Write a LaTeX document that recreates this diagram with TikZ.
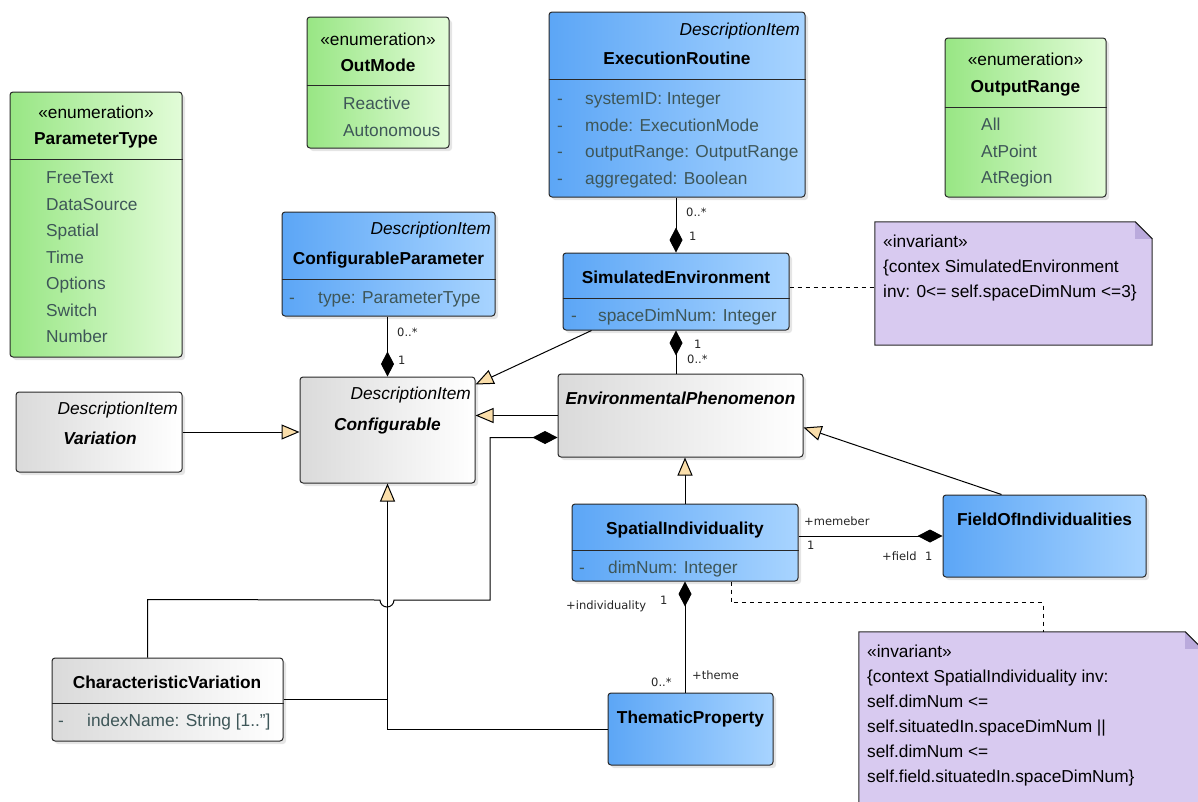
\documentclass[tikz,border=0pt]{standalone}
\usepackage{fontspec}
\setmainfont{Liberation Sans}
\newfontfamily\labelfont{DejaVu Sans}
\usetikzlibrary{arrows.meta, shadows, calc}

\newcommand\umlsize{\fontsize{17.3}{26.5}\selectfont}
\newcommand\notesize{\fontsize{17.3}{25}\selectfont}
\newcommand\lblsize{\labelfont\fontsize{11.5}{14}\selectfont}

\definecolor{blueL}{RGB}{92,166,246}
\definecolor{blueR}{RGB}{168,212,255}
\definecolor{greenL}{RGB}{152,230,132}
\definecolor{greenR}{RGB}{226,252,216}
\definecolor{grayL}{RGB}{218,218,218}
\definecolor{grayR}{RGB}{255,255,255}
\definecolor{notefill}{RGB}{216,202,240}
\definecolor{notefold}{RGB}{186,170,220}
\definecolor{attrtext}{RGB}{62,86,88}
\definecolor{genfill}{RGB}{250,222,170}
\definecolor{edge}{RGB}{40,40,40}

\begin{document}
\begin{tikzpicture}[x=1pt, y=-1pt, font=\umlsize]
\tikzstyle{umlbox} = [rectangle, rounded corners=3pt, draw=edge, line width=1pt, inner sep=0pt,
                      drop shadow={shadow xshift=3pt, shadow yshift=-3pt, opacity=0.2}]
\tikzstyle{bluebox} = [umlbox, left color=blueL, right color=blueR]
\tikzstyle{greenbox} = [umlbox, left color=greenL, right color=greenR]
\tikzstyle{graybox} = [umlbox, left color=grayL, right color=grayR]
\tikzstyle{notebox} = [rectangle, inner sep=0pt]
\tikzstyle{sep} = [draw=edge, line width=1pt]
\tikzstyle{txt} = [inner sep=0pt, text height=12.5pt, text depth=1.5pt, font=\umlsize]
\tikzstyle{classname} = [txt, font=\umlsize\bfseries]
\tikzstyle{absname} = [txt, font=\umlsize\bfseries\itshape]
\tikzstyle{stereo} = [txt, font=\umlsize\itshape, anchor=east]
\tikzstyle{attr} = [txt, text=attrtext, anchor=west]
\tikzstyle{notetext} = [inner sep=0pt, anchor=north west, align=left, font=\notesize]
\tikzstyle{lbl} = [inner sep=0pt, anchor=west, text height=9pt, text depth=2.5pt, font=\lblsize, text=black!85]
\tikzstyle{gen} = [-{Triangle[length=18pt, width=15pt, fill=genfill]}, line width=1pt]
\tikzstyle{comp} = [-{Diamond[length=25pt, width=13pt]}, line width=1pt]
\tikzstyle{trace} = [dash pattern=on 4pt off 4pt, line width=1pt]

\fill[white] (0,0) rectangle (1198,801);
\useasboundingbox (0,0) rectangle (1198,801);

\node[greenbox, minimum width=172pt, minimum height=265pt] (paramtype) at (96,224.5) {};
\node[greenbox, minimum width=142pt, minimum height=131pt] (outmode) at (378,82.5) {};
\node[bluebox, minimum width=256pt, minimum height=185pt] (exec) at (677,104.5) {};
\node[greenbox, minimum width=161pt, minimum height=159pt] (outrange) at (1025.5,117.5) {};
\node[bluebox, minimum width=213pt, minimum height=104pt] (confparam) at (388.5,264) {};
\node[bluebox, minimum width=226pt, minimum height=77pt] (simenv) at (676,291.5) {};
\node[graybox, minimum width=166pt, minimum height=80pt] (variation) at (99,432) {};
\node[graybox, minimum width=175pt, minimum height=106pt] (configurable) at (387.5,430) {};
\node[graybox, minimum width=245pt, minimum height=83pt] (envphen) at (680.5,415.5) {};
\node[bluebox, minimum width=226pt, minimum height=77pt] (spatind) at (685,542.5) {};
\node[bluebox, minimum width=203pt, minimum height=82pt] (fieldind) at (1044.5,536) {};
\node[graybox, minimum width=231pt, minimum height=83pt] (charvar) at (167.5,699.5) {};
\node[bluebox, minimum width=165pt, minimum height=72pt] (thematic) at (690.5,729) {};

\node[notebox, minimum width=277pt, minimum height=123pt] (siminv) at (1013.5,283.5) {};
\filldraw[fill=notefill, draw=edge, line width=1pt] (siminv.south west) -- (siminv.north west)
  -- ($(siminv.north east)+(-17,0)$) -- ($(siminv.north east)+(0,17)$) -- (siminv.south east) -- cycle;
\fill[notefold] ($(siminv.north east)+(-17,0)$) -- ($(siminv.north east)+(-17,17)$) -- ($(siminv.north east)+(0,17)$) -- cycle;
\draw[edge, line width=1pt] ($(siminv.north east)+(-17,0)$) -- ($(siminv.north east)+(0,17)$);

\node[notebox, minimum width=343pt, minimum height=183pt] (spatinv) at (1030.5,723.5) {};
\filldraw[fill=notefill, draw=edge, line width=1pt] (spatinv.south west) -- (spatinv.north west)
  -- ($(spatinv.north east)+(-17,0)$) -- ($(spatinv.north east)+(0,17)$) -- (spatinv.south east) -- cycle;
\fill[notefold] ($(spatinv.north east)+(-17,0)$) -- ($(spatinv.north east)+(-17,17)$) -- ($(spatinv.north east)+(0,17)$) -- cycle;
\draw[edge, line width=1pt] ($(spatinv.north east)+(-17,0)$) -- ($(spatinv.north east)+(0,17)$);

\draw[sep] (paramtype.west |- 0,159) -- (paramtype.east |- 0,159);
\draw[sep] (outmode.west |- 0,85) -- (outmode.east |- 0,85);
\draw[sep] (exec.west |- 0,79) -- (exec.east |- 0,79);
\draw[sep] (outrange.west |- 0,107) -- (outrange.east |- 0,107);
\draw[sep] (confparam.west |- 0,279) -- (confparam.east |- 0,279);
\draw[sep] (simenv.west |- 0,298) -- (simenv.east |- 0,298);
\draw[sep] (spatind.west |- 0,550) -- (spatind.east |- 0,550);
\draw[sep] (charvar.west |- 0,703) -- (charvar.east |- 0,703);

\draw[comp] (simenv.north |- exec.south) -- (simenv.north);
\draw[comp] (configurable.north |- confparam.south) -- (configurable.north);
\draw[comp] (envphen.north -| simenv.south) -- (simenv.south);
\draw[gen] ([xshift=29pt]simenv.south west) -- ([yshift=-8pt]configurable.north east);
\draw[gen] (envphen.west) -- (configurable.east |- envphen.west);
\draw[gen] (variation.east) -- (variation.east -| configurable.west);
\draw[gen] (spatind.north) -- (spatind.north |- envphen.south);
\draw[gen] ([xshift=59pt]fieldind.north west) -- ([yshift=-12pt]envphen.east);
\draw[gen] (thematic.west) -- (configurable.south |- thematic.west) -- (configurable.south);
\draw[line width=1pt] (charvar.east) -- (charvar.east -| configurable.south);
\draw[comp] (spatind.east |- fieldind.west) -- (fieldind.west);
\draw[comp] (spatind.south |- thematic.north) -- (spatind.south);
\draw[comp] ([xshift=-20pt]charvar.north) -- ++(0,-58) -- (380,600)
  arc[start angle=180, end angle=0, radius=7] -- (490,600) |- ([yshift=-22pt]envphen.west);
\draw[trace] ($(simenv.east)+(0,-4)$) -- ($(simenv.east -| siminv.west)+(0,-4)$);
\draw[trace] ([xshift=46pt]spatind.south) -- ++(0,21) -| ([xshift=12.5pt]spatinv.north);

\node[txt] (paramtype-st) at (96,113) {«enumeration»};
\node[classname] (paramtype-name) at (96,139) {ParameterType};
\foreach \v [count=\i from 0] in {FreeText, DataSource, Spatial, Time, Options, Switch, Number}
  \node[attr] (paramtype-\i) at (46,178+26.5*\i) {\v};

\node[txt] (outmode-st) at (378,40) {«enumeration»};
\node[classname] (outmode-name) at (378,66) {OutMode};
\foreach \v [count=\i from 0] in {Reactive, Autonomous}
  \node[attr] (outmode-\i) at (343,104+26.5*\i) {\v};

\node[stereo] (exec-st) at (800,30) {DescriptionItem};
\node[classname] (exec-name) at (677,59) {ExecutionRoutine};
\foreach \v [count=\i from 0] in {systemID: Integer, mode: ExecutionMode, outputRange: OutputRange, aggregated: Boolean} {
  \node[attr] (exec-d\i) at (557,99+26.5*\i) {-};
  \node[attr] (exec-\i) at (585,99+26.5*\i) {\v};
}

\node[txt] (outrange-st) at (1025.5,60) {«enumeration»};
\node[classname] (outrange-name) at (1025.5,87) {OutputRange};
\foreach \v [count=\i from 0] in {All, AtPoint, AtRegion}
  \node[attr] (outrange-\i) at (981,125+26.5*\i) {\v};

\node[stereo] (confparam-st) at (491,229) {DescriptionItem};
\node[classname] (confparam-name) at (388.5,259) {ConfigurableParameter};
\node[attr] (confparam-d) at (289,298) {-};
\node[attr] (confparam-a) at (318,298) {type: ParameterType};

\node[classname] (simenv-name) at (676,278) {SimulatedEnvironment};
\node[attr] (simenv-d) at (571,316) {-};
\node[attr] (simenv-a) at (598,316) {spaceDimNum: Integer};

\node[notetext] (siminv-text) at (883,235) {«invariant»\\\{contex SimulatedEnvironment\\inv: 0<= self.spaceDimNum <=3\}};

\node[stereo] (variation-st) at (178,409) {DescriptionItem};
\node[absname] (variation-name) at (100,439) {Variation};

\node[stereo] (configurable-st) at (471,394) {DescriptionItem};
\node[absname] (configurable-name) at (387.5,425) {Configurable};

\node[absname] (envphen-name) at (680.5,399) {EnvironmentalPhenomenon};

\node[classname] (spatind-name) at (685,529) {SpatialIndividuality};
\node[attr] (spatind-d) at (579,568) {-};
\node[attr] (spatind-a) at (608,568) {dimNum: Integer};

\node[classname] (fieldind-name) at (1044.5,520) {FieldOfIndividualities};

\node[classname] (charvar-name) at (167,683) {CharacteristicVariation};
\node[attr] (charvar-d) at (58,721) {-};
\node[attr] (charvar-a) at (87,721) {indexName: String [1.."]};

\node[classname] (thematic-name) at (690.5,718) {ThematicProperty};

\node[notetext] (spatinv-text) at (867,645) {«invariant»\\\{context SpatialIndividuality inv:\\self.dimNum <=\\self.situatedIn.spaceDimNum ||\\self.dimNum <=\\self.field.situatedIn.spaceDimNum\}};

\node[lbl] (exec-mult) at (686,213) {0..*};
\node[lbl] (simenv-mult1) at (689,237) {1};
\node[lbl] (confparam-mult) at (397,333) {0..*};
\node[lbl] (configurable-mult) at (398,361) {1};
\node[lbl] (simenv-mult2) at (694,345) {1};
\node[lbl] (envphen-mult) at (687,360) {0..*};
\node[lbl] (member-role) at (804,522) {+memeber};
\node[lbl] (member-mult) at (807,546) {1};
\node[lbl] (field-role) at (882,557) {+field};
\node[lbl] (field-mult) at (925,557) {1};
\node[lbl] (indiv-role) at (566,606) {+individuality};
\node[lbl] (indiv-mult) at (660,601) {1};
\node[lbl] (theme-mult) at (651,683) {0..*};
\node[lbl] (theme-role) at (692,676) {+theme};
\end{tikzpicture}
\end{document}
